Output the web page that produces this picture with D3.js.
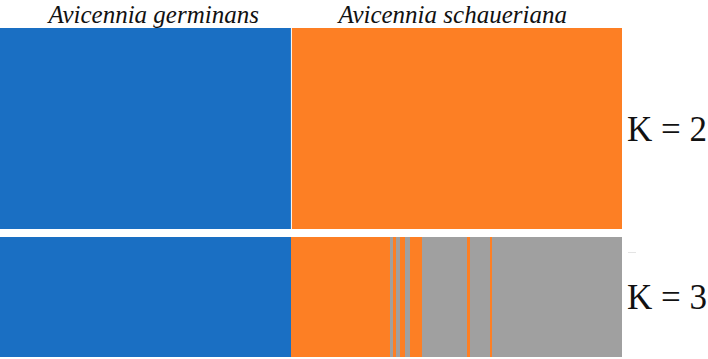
<!DOCTYPE html>
<html>
<head>
<meta charset="utf-8">
<script src="https://cdn.jsdelivr.net/npm/d3@7"></script>
<style>
  body { margin: 0; background: #fff; }
  svg { display: block; }
</style>
</head>
<body>
<div id="chart"></div>
<script>
// species groups along the top
const species = ['Avicennia germinans', 'Avicennia schaueriana']
const speciesCounts = [253, 287]

// runs of individuals assigned to each cluster (in sample order)
const k2Clusters = ['blue', 'orange']
const k2Counts = [253, 287]

const k3Clusters = ['blue', 'orange', 'gray', 'orange', 'gray', 'orange', 'gray', 'orange', 'gray', 'orange', 'gray', 'orange', 'gray']
const k3Counts = [253, 86, 2, 3, 3, 5, 4, 10, 39, 3, 17, 2, 113]

const kLabels = ['K = 2', 'K = 3']

const cluster_colors = {
    blue: '#1a6fc3',
    orange: '#fd7f24',
    gray: '#a0a0a0'
}

const width = 708, height = 359
const svg = d3.select('#chart').append('svg').attr('width', width).attr('height', height)

const total = d3.sum(k2Counts)
const x = d3.scaleLinear().domain([0, total]).range([0, 622])

const panels = [
    { clusters: k2Clusters, counts: k2Counts, y0: 28, y1: 229, label: kLabels[0] },
    { clusters: k3Clusters, counts: k3Counts, y0: 237, y1: 357, label: kLabels[1] }
]

const to_runs = (clusters, counts) => {
    let start = 0
    return clusters.map((c, i) => {
        const r = { cluster: c, start: start, end: start + counts[i] }
        start += counts[i]
        return r
    })
}

panels.forEach(p => {
    const g = svg.append('g')
    g.selectAll('rect')
        .data(to_runs(p.clusters, p.counts))
        .enter()
        .append('rect')
        .attr('x', d => x(d.start))
        .attr('width', d => x(d.end) - x(d.start))
        .attr('y', p.y0)
        .attr('height', p.y1 - p.y0)
        .attr('fill', d => cluster_colors[d.cluster])
        .attr('shape-rendering', 'crispEdges')

    svg.append('text')
        .attr('x', 627)
        .attr('y', (p.y0 + p.y1) / 2 + 12)
        .attr('font-family', '"Liberation Serif", "Times New Roman", serif')
        .attr('font-size', 35)
        .attr('fill', '#111')
        .text(p.label)
})

// thin white divider between the species in the K = 2 panel
svg.append('line')
    .attr('x1', x(speciesCounts[0])).attr('x2', x(speciesCounts[0]))
    .attr('y1', 28).attr('y2', 229)
    .attr('stroke', 'white').attr('stroke-width', 1)

// species names (nudged a little off the group centres, as in the figure)
const label_dx = [8, -4]
const sp_runs = to_runs(species, speciesCounts)
svg.selectAll('text.sp')
    .data(sp_runs)
    .enter()
    .append('text')
    .attr('class', 'sp')
    .attr('x', (d, i) => (x(d.start) + x(d.end)) / 2 + label_dx[i])
    .attr('y', 22.5)
    .attr('text-anchor', 'middle')
    .attr('font-family', '"Liberation Serif", "Times New Roman", serif')
    .attr('font-style', 'italic')
    .attr('font-size', 25)
    .attr('fill', '#111')
    .text(d => d.cluster)

// tiny tick mark beside the K = 3 panel
svg.append('line')
    .attr('x1', 628).attr('x2', 636)
    .attr('y1', 252.5).attr('y2', 252.5)
    .attr('stroke', '#e4e4e4').attr('stroke-width', 1)
</script>
</body>
</html>
